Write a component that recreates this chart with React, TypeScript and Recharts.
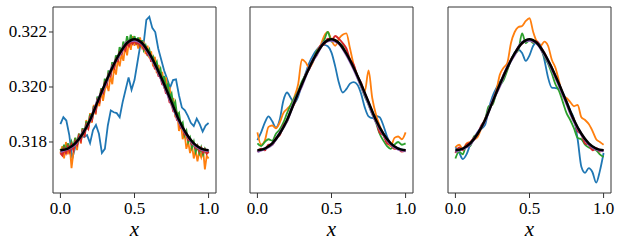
import { LineChart, Line, XAxis, YAxis, ReferenceArea } from "recharts";

const exact = [
  0.3177, 0.31776, 0.31795, 0.3183, 0.3188, 0.31945, 0.3201, 0.3207, 0.32122, 0.3216, 0.32174,
  0.3216, 0.32122, 0.3207, 0.3201, 0.31945, 0.3188, 0.3183, 0.31795, 0.31776, 0.3177,
];
const purple = [
  0.31765, 0.31775, 0.31792, 0.31832, 0.31878, 0.31948, 0.32005, 0.32072, 0.32118, 0.32162, 0.3217,
  0.32158, 0.32118, 0.32066, 0.32005, 0.3194, 0.31875, 0.31828, 0.31792, 0.31774, 0.31768,
];

// panel 1
const blue1 = [
  0.31865, 0.3189, 0.31878, 0.31825, 0.3174, 0.31781, 0.31815, 0.31822, 0.31818, 0.31825, 0.31796,
  0.31843, 0.31862, 0.3183, 0.3176, 0.31775, 0.3186, 0.31915, 0.31908, 0.31905, 0.3189, 0.31945,
  0.3199, 0.32035, 0.3199, 0.32025, 0.3209, 0.32155, 0.3215, 0.32244, 0.32255, 0.32215, 0.322,
  0.3214, 0.321, 0.3206, 0.3203, 0.31998, 0.32025, 0.32028, 0.3197, 0.31925, 0.31915, 0.31895,
  0.3187, 0.31858, 0.31885, 0.31865, 0.31838, 0.3186, 0.31869,
];
const orange1 = [
  0.3176, 0.31785, 0.3174, 0.318, 0.31755, 0.3179, 0.31705, 0.3176, 0.31815, 0.3177, 0.3183,
  0.31795, 0.3185, 0.3182, 0.3188, 0.31845, 0.31905, 0.3187, 0.31935, 0.319, 0.31955, 0.3193,
  0.31985, 0.3195, 0.3199, 0.3201, 0.31985, 0.3204, 0.3201, 0.3207, 0.32045, 0.321, 0.32075,
  0.3212, 0.32095, 0.3215, 0.32115, 0.32165, 0.32135, 0.32185, 0.3215, 0.32175, 0.3214, 0.3218,
  0.32145, 0.3216, 0.3212, 0.3215, 0.32105, 0.3213, 0.32075, 0.3211, 0.3205, 0.3208, 0.3203,
  0.32055, 0.31995, 0.32035, 0.3197, 0.32, 0.3193, 0.3196, 0.3189, 0.3191, 0.3184, 0.3187,
  0.3181, 0.31835, 0.31775, 0.318, 0.3176, 0.3179, 0.3174, 0.3177, 0.3173, 0.31765, 0.31745,
  0.31775, 0.317, 0.3175, 0.3174,
];
const green1 = [
  0.31775, 0.3176, 0.3179, 0.31765, 0.31795, 0.3177, 0.318, 0.3178, 0.31815, 0.3179, 0.3183,
  0.3181, 0.3185, 0.3183, 0.31875, 0.31855, 0.319, 0.3188, 0.3193, 0.3191, 0.31965, 0.31945,
  0.31995, 0.31975, 0.3203, 0.3201, 0.3206, 0.3204, 0.3209, 0.3207, 0.32115, 0.32095, 0.32145,
  0.3212, 0.32165, 0.3214, 0.32185, 0.3215, 0.3219, 0.3216, 0.32185, 0.32155, 0.3218, 0.32145,
  0.3217, 0.32135, 0.3215, 0.3212, 0.32135, 0.321, 0.3211, 0.32075, 0.3209, 0.3205, 0.32065,
  0.3202, 0.3204, 0.31995, 0.3201, 0.3196, 0.31975, 0.3193, 0.31945, 0.31895, 0.31905, 0.3186,
  0.3187, 0.31825, 0.3184, 0.318, 0.31815, 0.3178, 0.318, 0.31765, 0.31785, 0.3176, 0.3178,
  0.31755, 0.31775, 0.3176, 0.3177,
];
const red1 = [
  0.3176, 0.31752, 0.31775, 0.3176, 0.31782, 0.31765, 0.3179, 0.31772, 0.31802, 0.3179, 0.3182,
  0.31805, 0.31838, 0.31825, 0.31862, 0.3185, 0.31888, 0.3188, 0.3192, 0.3191, 0.31952, 0.31945,
  0.31985, 0.31978, 0.32015, 0.3201, 0.32045, 0.3204, 0.32075, 0.32068, 0.321, 0.32095, 0.32125,
  0.3212, 0.32145, 0.32135, 0.3216, 0.3215, 0.32168, 0.32158, 0.3217, 0.32158, 0.32165, 0.3215,
  0.32158, 0.32138, 0.3214, 0.32118, 0.3212, 0.32095, 0.32095, 0.32068, 0.32068, 0.3204, 0.32038,
  0.3201, 0.32008, 0.31978, 0.31975, 0.31945, 0.31942, 0.31912, 0.3191, 0.3188, 0.31878, 0.31852,
  0.31852, 0.31828, 0.31828, 0.31808, 0.3181, 0.31792, 0.31795, 0.31778, 0.31785, 0.31768, 0.31778,
  0.31762, 0.31772, 0.31758, 0.31765,
];

// panel 2
const blue2 = [
  0.31807, 0.31835, 0.3187, 0.31893, 0.31875, 0.31852, 0.3188, 0.3195, 0.3198, 0.3196, 0.31942,
  0.31965, 0.3201, 0.3205, 0.32088, 0.32115, 0.32135, 0.32148, 0.32153, 0.32148, 0.32125, 0.32075,
  0.32015, 0.3198, 0.31992, 0.32012, 0.32018, 0.32008, 0.31975, 0.31925, 0.31893, 0.31887, 0.31895,
  0.3189, 0.3186, 0.3182, 0.3179, 0.3178, 0.31778, 0.31772, 0.3177,
];
const orange2 = [
  0.31835, 0.3179, 0.31805, 0.31855, 0.3186, 0.3185, 0.3187, 0.31905, 0.3192, 0.31935, 0.31965,
  0.3201, 0.321, 0.3209, 0.3207, 0.3209, 0.3213, 0.3215, 0.32185, 0.322, 0.3217, 0.3215, 0.32175,
  0.3219, 0.32195, 0.3214, 0.3208, 0.3204, 0.32005, 0.31985, 0.3206, 0.3196, 0.319, 0.3186,
  0.3183, 0.318, 0.31785, 0.31815, 0.3182, 0.3181, 0.31835,
];
const green2 = [
  0.31795, 0.31785, 0.318, 0.3181, 0.31805, 0.3183, 0.31845, 0.3187, 0.31905, 0.31935, 0.3196,
  0.31985, 0.3202, 0.32045, 0.32075, 0.32095, 0.3213, 0.32145, 0.3217, 0.322, 0.32165, 0.3217,
  0.3216, 0.3215, 0.3212, 0.32095, 0.3207, 0.32035, 0.32, 0.31965, 0.31935, 0.319, 0.3187,
  0.3183, 0.31805, 0.31785, 0.31775, 0.3179, 0.318, 0.3179, 0.31795,
];
const red2 = [
  0.31765, 0.31775, 0.3177, 0.3179, 0.3179, 0.31815, 0.31825, 0.3186, 0.31875, 0.31915, 0.3194,
  0.3198, 0.32005, 0.32045, 0.32065, 0.321, 0.32115, 0.3215, 0.32155, 0.32175, 0.3217, 0.32185,
  0.32175, 0.3216, 0.3214, 0.321, 0.3208, 0.3204, 0.32015, 0.31975, 0.31945, 0.31905, 0.3188,
  0.31835, 0.31825, 0.31795, 0.3179, 0.31775, 0.31775, 0.31765, 0.3177,
];

// panel 3
const blue3 = [
  0.31781, 0.31762, 0.31738, 0.31755, 0.3179, 0.31812, 0.31836, 0.31848, 0.31862, 0.3192, 0.31965,
  0.31995, 0.32018, 0.3204, 0.32068, 0.32095, 0.32125, 0.32135, 0.32124, 0.32095, 0.32115, 0.3215,
  0.32162, 0.3215, 0.321, 0.32035, 0.31998, 0.31996, 0.31994, 0.31978, 0.3195, 0.31914, 0.31885,
  0.3181, 0.3171, 0.31688, 0.31705, 0.3169, 0.31652, 0.31695, 0.3176,
];
const orange3 = [
  0.31781, 0.3179, 0.31775, 0.31795, 0.318, 0.31808, 0.31818, 0.3185, 0.31885, 0.31915, 0.3195,
  0.31985, 0.32045, 0.3207, 0.32087, 0.3216, 0.322, 0.32218, 0.32222, 0.3224, 0.3225, 0.322,
  0.32164, 0.3215, 0.32165, 0.3215, 0.321, 0.3207, 0.3202, 0.31965, 0.3196, 0.31945, 0.3193,
  0.31935, 0.3189, 0.3188, 0.31865, 0.3184, 0.3181, 0.318, 0.3179,
];
const green3 = [
  0.3174, 0.31765, 0.31755, 0.3179, 0.31785, 0.3182, 0.3183, 0.31855, 0.3188, 0.3193, 0.31935,
  0.31975, 0.32005, 0.32025, 0.3206, 0.321, 0.3212, 0.32135, 0.32195, 0.3216, 0.3217, 0.3216,
  0.32165, 0.3214, 0.3211, 0.32085, 0.3205, 0.3201, 0.31985, 0.31945, 0.31905, 0.3188, 0.3185,
  0.31815, 0.3181, 0.3179, 0.3178, 0.31775, 0.3177, 0.31755, 0.31745,
];
const red3 = [
  0.3176, 0.3178, 0.3177, 0.3179, 0.31798, 0.31815, 0.31828, 0.3186, 0.31878, 0.31915, 0.31942,
  0.31982, 0.32008, 0.32045, 0.32068, 0.321, 0.3212, 0.32145, 0.32158, 0.3217, 0.32172, 0.32165,
  0.32165, 0.32145, 0.32125, 0.32095, 0.32072, 0.32035, 0.3201, 0.31975, 0.31945, 0.31905, 0.31882,
  0.3184, 0.31828, 0.31795, 0.3179, 0.3177, 0.31778, 0.31765, 0.31772,
];

const xTicks = [0, 0.5, 1];
const yTicks = [0.318, 0.32, 0.322];

const FONT = "Liberation Serif";
const yDomain = [0.316145, 0.322909];
const xDomain = [-0.05, 1.05];

const toPoints = (ys: number[]) => ys.map((y, i) => ({ x: i / (ys.length - 1), y }));

function XTick(props: any) {
  const { x, y, payload } = props;
  return (
    <text x={x} y={y + 12} textAnchor="middle" fontFamily={FONT} fontSize={17} fill="#000" style={{ fontFamily: FONT }}>
      {Number(payload.value).toFixed(1)}
    </text>
  );
}

function YTick(props: any) {
  const { x, y, payload } = props;
  return (
    <text x={x} y={y + 5.5} textAnchor="end" fontFamily={FONT} fontSize={17} fill="#000" style={{ fontFamily: FONT }}>
      {Number(payload.value).toFixed(3)}
    </text>
  );
}

function XLabel(props: any) {
  const vb = props.viewBox || { x: 0, y: 193, width: 0, height: 42 };
  return (
    <text
      x={vb.x + vb.width / 2}
      y={vb.y + vb.height + 1}
      textAnchor="middle"
      fontFamily={FONT}
      fontStyle="italic"
      fontSize={21}
      fill="#000"
      style={{ fontFamily: FONT, fontStyle: "italic" }}
    >
      x
    </text>
  );
}

type Series = { values: number[]; color: string; width: number; smooth?: boolean };

function Panel({ left, width, yWidth, showLabels, series }: {
  left: number; width: number; yWidth: number; showLabels: boolean; series: Series[];
}) {
  return (
    <div style={{ position: "absolute", left, top: 0 }}>
      <LineChart width={width} height={247} margin={{ top: 7, right: 6, bottom: 12, left: 0 }}>
        <XAxis
          type="number"
          dataKey="x"
          domain={xDomain}
          ticks={xTicks}
          allowDataOverflow
          height={42}
          axisLine={false}
          tickSize={5}
          tickMargin={4}
          tickLine={{ stroke: "#333" }}
          tick={<XTick />}
          label={{ content: <XLabel /> }}
        />
        <YAxis
          type="number"
          dataKey="y"
          domain={yDomain}
          ticks={yTicks}
          allowDataOverflow
          width={yWidth}
          axisLine={false}
          tickSize={4}
          tickMargin={2}
          tickLine={{ stroke: "#333" }}
          tick={showLabels ? <YTick /> : false}
        />
        {series.map((s, i) => (
          <Line
            key={i}
            data={toPoints(s.values)}
            dataKey="y"
            type={s.smooth ? "monotone" : "linear"}
            stroke={s.color}
            strokeWidth={s.width}
            dot={false}
            activeDot={false}
            isAnimationActive={false}
          />
        ))}
        <ReferenceArea
          x1={xDomain[0]}
          x2={xDomain[1]}
          y1={yDomain[0]}
          y2={yDomain[1]}
          fill="none"
          stroke="#333"
          strokeWidth={1}
          ifOverflow="visible"
        />
      </LineChart>
    </div>
  );
}

const tail: Series[] = [
  { values: purple, color: "#9467bd", width: 2.8, smooth: true },
  { values: exact, color: "#000000", width: 2.5, smooth: true },
];

export default function App() {
  return (
    <div style={{ position: "absolute", left: 0, top: 0, width: 622, height: 247, background: "#fff", fontFamily: FONT }}>
      <Panel
        left={0}
        width={222}
        yWidth={53}
        showLabels
        series={[
          { values: blue1, color: "#1f77b4", width: 1.8 },
          { values: orange1, color: "#ff7f0e", width: 1.8 },
          { values: green1, color: "#2ca02c", width: 2 },
          { values: red1, color: "#d62728", width: 2.2 },
          ...tail,
        ]}
      />
      <Panel
        left={220}
        width={199}
        yWidth={30}
        showLabels={false}
        series={[
          { values: blue2, color: "#1f77b4", width: 1.8, smooth: true },
          { values: orange2, color: "#ff7f0e", width: 1.8, smooth: true },
          { values: green2, color: "#2ca02c", width: 1.8, smooth: true },
          { values: red2, color: "#d62728", width: 2, smooth: true },
          ...tail,
        ]}
      />
      <Panel
        left={418}
        width={199}
        yWidth={30}
        showLabels={false}
        series={[
          { values: blue3, color: "#1f77b4", width: 1.8, smooth: true },
          { values: orange3, color: "#ff7f0e", width: 1.8, smooth: true },
          { values: green3, color: "#2ca02c", width: 1.8, smooth: true },
          { values: red3, color: "#d62728", width: 2, smooth: true },
          ...tail,
        ]}
      />
    </div>
  );
}
